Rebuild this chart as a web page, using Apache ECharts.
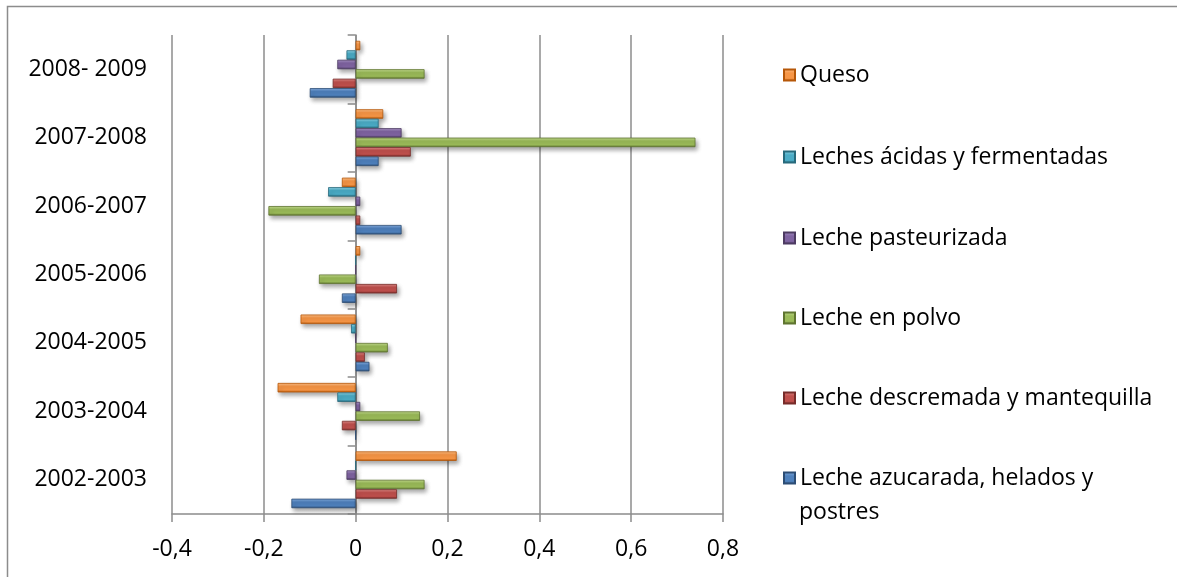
<!DOCTYPE html>
<html>
<head>
<meta charset="utf-8">
<script src="https://cdn.jsdelivr.net/npm/echarts@6/dist/echarts.min.js"></script>
<style>
html,body{margin:0;padding:0;background:#fff;}
#chart{width:1177px;height:577px;}
</style>
</head>
<body>
<div id="chart"></div>
<script>
// ---- data ----
const categories = ['2002-2003', '2003-2004', '2004-2005', '2005-2006', '2006-2007', '2007-2008', '2008- 2009'];
const seriesNames = [
  'Queso',
  'Leches ácidas y fermentadas',
  'Leche pasteurizada',
  'Leche en polvo',
  'Leche descremada y mantequilla',
  'Leche azucarada, helados y postres'
];
const queso        = [0.22, -0.17, -0.12, 0.01, -0.03, 0.06, 0.01];
const acidas       = [0.00, -0.04, -0.01, 0.00, -0.06, 0.05, -0.02];
const pasteurizada = [-0.02, 0.01, 0.00, 0.00, 0.01, 0.10, -0.04];
const polvo        = [0.15, 0.14, 0.07, -0.08, -0.19, 0.74, 0.15];
const descremada   = [0.09, -0.03, 0.02, 0.09, 0.01, 0.12, -0.05];
const azucarada    = [-0.14, 0.00, 0.03, -0.03, 0.10, 0.05, -0.10];
const xTickLabels  = ['-0,4', '-0,2', '0', '0,2', '0,4', '0,6', '0,8'];

// ---- styles ----
const seriesValues = [queso, acidas, pasteurizada, polvo, descremada, azucarada];
const palette = [
  ['#FCC28C', '#F79646', '#B65708'],
  ['#92D5E6', '#4BACC6', '#276A7C'],
  ['#A995C6', '#8064A2', '#4D3B62'],
  ['#C6DE92', '#9BBB59', '#5F7530'],
  ['#DE8C89', '#C0504D', '#772C2A'],
  ['#86AEE0', '#4F81BD', '#2C4D75']
];
const FONT = 'Open Sans';
const FS = 23;
const GRID_COLOR = '#8c8c8c';

function grad(c) {
  return new echarts.graphic.LinearGradient(0, 0, 0, 1, [
    {offset: 0, color: c[0]},
    {offset: 0.35, color: c[1]},
    {offset: 0.75, color: c[1]},
    {offset: 1, color: c[2]}
  ]);
}

const series = seriesNames.map((name, i) => ({
  name: name,
  type: 'bar',
  yAxisIndex: 0,
  data: seriesValues[i],
  barGap: '0%',
  barCategoryGap: '17%',
  itemStyle: {
    color: grad(palette[i]),
    borderColor: palette[i][2],
    borderWidth: 0.8,
    shadowColor: 'rgba(0,0,0,0.35)',
    shadowBlur: 4,
    shadowOffsetX: 2,
    shadowOffsetY: 3
  },
  emphasis: {disabled: true}
}));

// legend entries (top to bottom)
const legendCenters = [75, 157, 238, 318, 398, 478];
const legends = seriesNames.map((name, k) => ({
  orient: 'vertical',
  left: 783,
  top: legendCenters[k] - 14,
  itemWidth: 11,
  itemHeight: 11,
  itemGap: 0,
  padding: 0,
  selectedMode: false,
  data: [{name: name, icon: 'rect'}],
  formatter: k === 5 ? function () { return 'Leche azucarada, helados y'; } : undefined,
  textStyle: {fontFamily: FONT, fontSize: FS, color: '#000', lineHeight: 28}
}));

const chart = echarts.init(document.getElementById('chart'), null, {renderer: 'canvas'});
chart.setOption({
  animation: false,
  backgroundColor: '#fff',
  grid: {left: 172, right: 454, top: 35, bottom: 63, outerBoundsMode: 'none', containLabel: false},
  legend: legends,
  xAxis: {
    type: 'value',
    min: -0.4,
    max: 0.8,
    interval: 0.2,
    axisLine: {show: true, onZero: false, lineStyle: {color: GRID_COLOR, width: 1.5}},
    axisTick: {show: true, length: 8, lineStyle: {color: GRID_COLOR, width: 1.5}},
    splitLine: {show: true, lineStyle: {color: GRID_COLOR, width: 1.5}},
    axisLabel: {
      fontFamily: FONT, fontSize: FS, color: '#000', margin: 24,
      formatter: function (v) { return xTickLabels[Math.round((v + 0.4) / 0.2)]; }
    }
  },
  yAxis: [{
    type: 'category',
    data: categories,
    position: 'left',
    axisLine: {show: false, onZero: false},
    axisTick: {show: false},
    splitLine: {show: false},
    axisLabel: {fontFamily: FONT, fontSize: FS, color: '#000', margin: 25}
  }, {
    type: 'category',
    data: categories,
    position: 'left',
    axisLine: {show: true, onZero: true, lineStyle: {color: GRID_COLOR, width: 1.5}},
    axisTick: {show: true, length: 8, alignWithLabel: false, lineStyle: {color: GRID_COLOR, width: 1.5}},
    axisLabel: {show: false},
    splitLine: {show: false}
  }],
  graphic: [{
    type: 'rect',
    shape: {x: 7.5, y: 6.5, width: 1300, height: 700},
    style: {fill: 'none', stroke: GRID_COLOR, lineWidth: 1.5},
    silent: true,
    z: 100
  }, {
    type: 'text',
    left: 799,
    top: 501,
    style: {text: 'postres', fontFamily: FONT, fontSize: FS, fill: '#000'},
    silent: true
  }],
  series: series
});
</script>
</body>
</html>
